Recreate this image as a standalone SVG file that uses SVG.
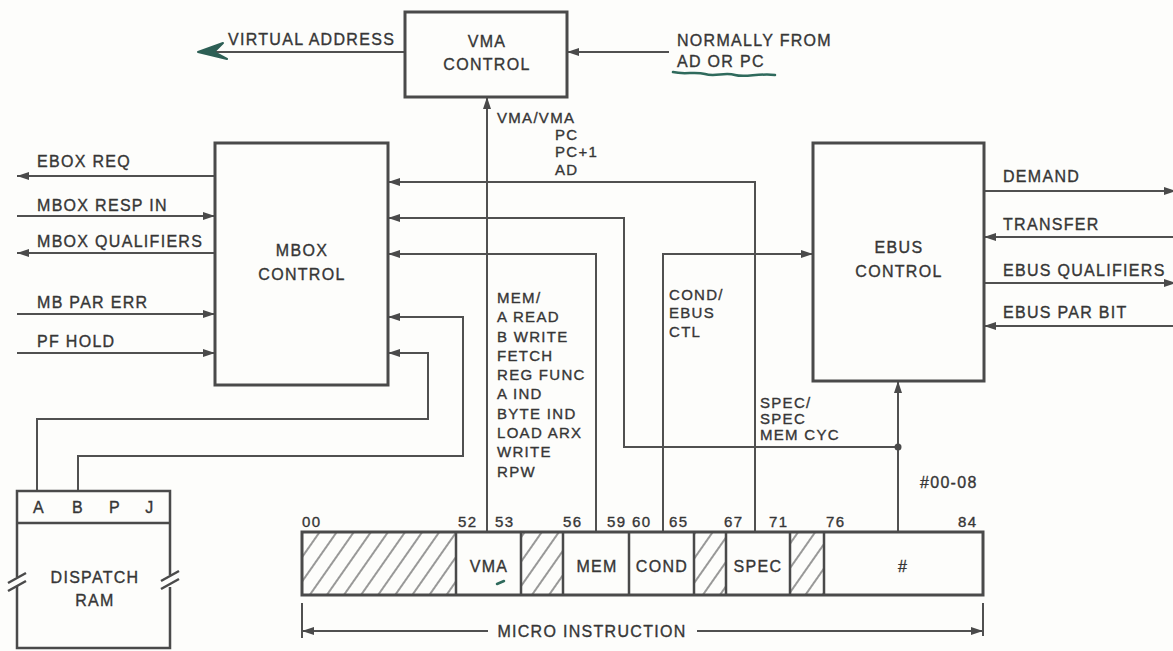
<svg xmlns="http://www.w3.org/2000/svg" width="1173" height="651" viewBox="0 0 1173 651">
<style>
.t{font-family:"Liberation Sans",Arial,sans-serif;font-size:16px;fill:#363636;stroke:#363636;stroke-width:0.35px;letter-spacing:1.3px}
.s{font-size:15px}
.m{text-anchor:middle}
.box{fill:#fdfdfb;stroke:#4a4a4a;stroke-width:3}
.ln{fill:none;stroke:#505050;stroke-width:2}
.dv{fill:none;stroke:#4a4a4a;stroke-width:2.5}
.grn{fill:none;stroke:#2f6a5c;stroke-width:2.5;stroke-linecap:round}
</style>
<defs>
<marker id="ah" markerUnits="userSpaceOnUse" markerWidth="13" markerHeight="9" refX="12" refY="4.5" orient="auto">
<path d="M0,0.5 L12,4.5 L0,8.5 z" fill="#4a4a4a"/>
</marker>
<pattern id="hatch" patternUnits="userSpaceOnUse" width="14" height="14" patternTransform="rotate(35)">
<line x1="7" y1="-2" x2="7" y2="16" stroke="#555" stroke-width="1.2"/>
</pattern>
</defs>
<rect width="1173" height="651" fill="#fdfdfb"/>

<g id="connectors">
<path class="ln" d="M405,52 H206"/>
<path d="M198,52 L223,43 L214,52 L227,59 Z" fill="#2d5f55" stroke="#2d5f55" stroke-width="2" stroke-linejoin="round"/>
<path class="ln" d="M669,52 H567" marker-end="url(#ah)"/>
<path class="ln" d="M487,532 V97" marker-end="url(#ah)"/>
<path class="ln" d="M755,532 V182 H388" marker-end="url(#ah)"/>
<path class="ln" d="M898,447 H624 V218 H388" marker-end="url(#ah)"/>
<path class="ln" d="M596,532 V254 H388" marker-end="url(#ah)"/>
<path class="ln" d="M663,532 V254 H813" marker-end="url(#ah)"/>
<path class="ln" d="M898,532 V381" marker-end="url(#ah)"/>
<circle cx="898" cy="447" r="3.5" fill="#4a4a4a"/>
<path class="ln" d="M37,491 V419 H428 V353 H388" marker-end="url(#ah)"/>
<path class="ln" d="M78,491 V456 H463 V317 H388" marker-end="url(#ah)"/>
<path class="ln" d="M215,176 H17" marker-end="url(#ah)"/>
<path class="ln" d="M17,216 H215" marker-end="url(#ah)"/>
<path class="ln" d="M215,253 H17" marker-end="url(#ah)"/>
<path class="ln" d="M17,314 H215" marker-end="url(#ah)"/>
<path class="ln" d="M17,353 H215" marker-end="url(#ah)"/>
<path class="ln" d="M984,191 H1176" marker-end="url(#ah)"/>
<path class="ln" d="M1173,237 H984" marker-end="url(#ah)"/>
<path class="ln" d="M984,283 H1176" marker-end="url(#ah)"/>
<path class="ln" d="M1173,326 H984" marker-end="url(#ah)"/>
<path class="ln" d="M488,631 H302" marker-end="url(#ah)"/>
<path class="ln" d="M697,631 H983" marker-end="url(#ah)"/>
<path class="ln" d="M302,603 V638 M983,603 V636"/>
</g>

<g id="vma-control">
<rect class="box" x="405" y="12" width="162" height="85"/>
<text class="t m" x="487" y="47">VMA</text>
<text class="t m" x="487" y="70">CONTROL</text>
</g>

<g id="labels-top">
<text class="t" x="228" y="45">VIRTUAL ADDRESS</text>
<text class="t" x="677" y="46">NORMALLY FROM</text>
<text class="t" x="677" y="67">AD OR PC</text>
<path class="grn" d="M673,72 C685,75 695,71 705,74 S725,72 735,75 S758,73 775,75"/>
<text class="t s" x="497" y="123">VMA/VMA</text>
<text class="t s" x="555" y="140">PC</text>
<text class="t s" x="555" y="157">PC+1</text>
<text class="t s" x="555" y="175">AD</text>
</g>

<g id="mbox-control">
<rect class="box" x="215" y="143" width="173" height="242"/>
<text class="t m" x="302" y="256">MBOX</text>
<text class="t m" x="302" y="280">CONTROL</text>
</g>

<g id="mbox-signals">
<text class="t" x="37" y="167">EBOX REQ</text>
<text class="t" x="37" y="211">MBOX RESP IN</text>
<text class="t" x="37" y="247">MBOX QUALIFIERS</text>
<text class="t" x="37" y="308">MB PAR ERR</text>
<text class="t" x="37" y="347">PF HOLD</text>
</g>

<g id="ebus-control">
<rect class="box" x="813" y="143" width="171" height="238"/>
<text class="t m" x="899" y="253">EBUS</text>
<text class="t m" x="899" y="277">CONTROL</text>
</g>

<g id="ebus-signals">
<text class="t" x="1003" y="182">DEMAND</text>
<text class="t" x="1003" y="230">TRANSFER</text>
<text class="t" x="1003" y="276">EBUS QUALIFIERS</text>
<text class="t" x="1003" y="318">EBUS PAR BIT</text>
</g>

<g id="mem-labels">
<text class="t s" x="497" y="303">MEM/</text>
<text class="t s" x="497" y="322">A READ</text>
<text class="t s" x="497" y="342">B WRITE</text>
<text class="t s" x="497" y="361">FETCH</text>
<text class="t s" x="497" y="380">REG FUNC</text>
<text class="t s" x="497" y="399">A IND</text>
<text class="t s" x="497" y="419">BYTE IND</text>
<text class="t s" x="497" y="438">LOAD ARX</text>
<text class="t s" x="497" y="457">WRITE</text>
<text class="t s" x="497" y="477">RPW</text>
<text class="t s" x="669" y="300">COND/</text>
<text class="t s" x="669" y="318">EBUS</text>
<text class="t s" x="669" y="337">CTL</text>
<text class="t s" x="760" y="408">SPEC/</text>
<text class="t s" x="760" y="424">SPEC</text>
<text class="t s" x="760" y="440">MEM CYC</text>
<text class="t" x="920" y="488">#00-08</text>
</g>

<g id="dispatch-ram">
<path class="dv" d="M17,577 V491 H170 V575 M170,587 V648 H17 V586"/>
<path class="dv" d="M17,523 H170"/>
<path class="dv" d="M8,583 L26,573 M8,591 L26,581 M161,581 L179,571 M161,589 L179,579"/>
<text class="t m" x="39" y="513">A</text>
<text class="t m" x="78" y="513">B</text>
<text class="t m" x="115" y="513">P</text>
<text class="t m" x="150" y="513">J</text>
<text class="t m" x="95" y="583">DISPATCH</text>
<text class="t m" x="95" y="606">RAM</text>
</g>

<g id="micro-instruction">
<rect x="302" y="532" width="154" height="63" fill="url(#hatch)"/>
<rect x="521" y="532" width="42" height="63" fill="url(#hatch)"/>
<rect x="694" y="532" width="32" height="63" fill="url(#hatch)"/>
<rect x="790" y="532" width="34" height="63" fill="url(#hatch)"/>
<rect x="302" y="532" width="681" height="63" fill="none" stroke="#4a4a4a" stroke-width="3"/>
<path class="dv" d="M456,532 V595 M521,532 V595 M563,532 V595 M629,532 V595 M694,532 V595 M726,532 V595 M790,532 V595 M824,532 V595"/>
<text class="t m" x="489" y="572">VMA</text>
<path class="grn" d="M497,584 L504,581"/>
<text class="t m" x="597" y="572">MEM</text>
<text class="t m" x="662" y="572">COND</text>
<text class="t m" x="758" y="572">SPEC</text>
<text class="t m" x="903" y="572">#</text>
<text class="t s" x="302" y="527">00</text>
<text class="t s" x="458" y="527">52</text>
<text class="t s" x="495" y="527">53</text>
<text class="t s" x="563" y="527">56</text>
<text class="t s" x="607" y="527">59</text>
<text class="t s" x="632" y="527">60</text>
<text class="t s" x="669" y="527">65</text>
<text class="t s" x="724" y="527">67</text>
<text class="t s" x="769" y="527">71</text>
<text class="t s" x="826" y="527">76</text>
<text class="t s" x="958" y="527">84</text>
<text class="t m" x="592" y="637">MICRO INSTRUCTION</text>
</g>
</svg>
